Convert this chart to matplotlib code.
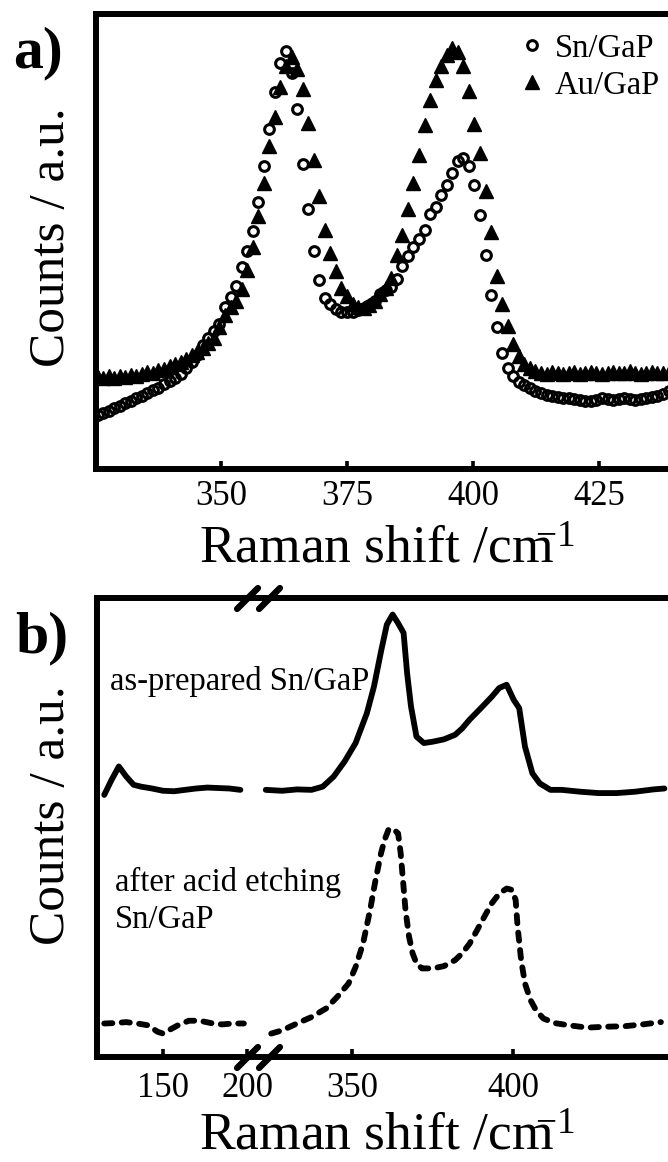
import matplotlib
matplotlib.use("Agg")
import matplotlib.pyplot as plt
from matplotlib.lines import Line2D
from matplotlib.markers import MarkerStyle

plt.rcParams['font.family'] = ['Liberation Serif', 'DejaVu Serif']
plt.rcParams['mathtext.fontset'] = 'custom'
plt.rcParams['mathtext.rm'] = 'Liberation Serif'
plt.rcParams['mathtext.default'] = 'rm'

# (a) Raman spectra of Sn/GaP and Au/GaP, same wavenumber grid
shift_a = [325.5, 326.6, 327.7, 328.8, 329.9, 331.0, 332.1, 333.2, 334.3, 335.4,
           336.5, 337.6, 338.7, 339.8, 340.9, 342.0, 343.1, 344.2, 345.3, 346.4,
           347.5, 348.6, 349.7, 350.8, 351.9, 353.0, 354.1, 355.2, 356.3, 357.4,
           358.5, 359.6, 360.7, 361.8, 362.9, 364.0, 365.1, 366.2, 367.3, 368.4,
           369.5, 370.6, 371.7, 372.8, 373.9, 375.0, 376.1, 377.2, 378.3, 379.4,
           380.5, 381.6, 382.7, 383.8, 384.9, 386.0, 387.1, 388.2, 389.3, 390.4,
           391.5, 392.6, 393.7, 394.8, 395.9, 397.0, 398.1, 399.2, 400.3, 401.4,
           402.5, 403.6, 404.7, 405.8, 406.9, 408.0, 409.1, 410.2, 411.3, 412.4,
           413.5, 414.6, 415.7, 416.8, 417.9, 419.0, 420.1, 421.2, 422.3, 423.4,
           424.5, 425.6, 426.7, 427.8, 428.9, 430.0, 431.1, 432.2, 433.3, 434.4,
           435.5, 436.6, 437.7, 438.8]

sn_counts = [11.8, 12.3, 12.8, 13.3, 13.9, 14.4, 14.9, 15.5, 16.1, 16.8,
             17.3, 17.9, 18.6, 19.3, 20.0, 20.9, 22.1, 23.5, 25.1, 27.2,
             28.9, 30.4, 31.9, 35.5, 37.9, 40.2, 44.3, 48.0, 52.2, 58.6,
             66.5, 74.8, 82.8, 89.3, 91.9, 87.0, 79.2, 67.0, 57.2, 48.0,
             41.5, 37.6, 36.2, 35.2, 34.6, 34.4, 34.6, 34.9, 35.4, 36.1,
             37.0, 38.4, 39.3, 40.1, 41.8, 44.6, 46.8, 48.8, 50.6, 52.6,
             56.0, 57.5, 60.3, 62.4, 65.0, 67.7, 68.4, 66.5, 62.5, 55.8,
             47.0, 38.2, 31.3, 25.5, 22.3, 20.4, 19.2, 18.4, 17.7, 17.1,
             16.7, 16.3, 16.1, 15.9, 15.7, 15.5, 15.3, 15.1, 15.0, 14.9,
             15.2, 15.5, 15.3, 15.1, 15.4, 15.6, 15.3, 15.1, 15.3, 15.5,
             15.8, 16.0, 16.5, 17.1]

au_counts = [20.3, 20.0, 20.4, 20.1, 20.5, 20.3, 20.7, 20.5, 20.9, 21.3,
             21.1, 21.7, 22.0, 22.6, 23.1, 23.5, 24.1, 25.1, 25.8, 26.6,
             27.8, 28.9, 31.2, 33.8, 35.7, 37.0, 39.5, 43.8, 48.8, 55.5,
             62.8, 71.0, 77.4, 84.0, 88.5, 90.6, 88.0, 83.5, 76.0, 68.0,
             60.0, 52.5, 47.5, 43.5, 39.8, 38.0, 36.3, 35.5, 35.4, 36.0,
             37.0, 38.5, 39.8, 42.0, 47.0, 51.5, 57.2, 62.8, 69.0, 75.5,
             81.1, 85.5, 88.6, 91.0, 92.5, 91.6, 88.6, 83.0, 75.8, 69.4,
             61.0, 52.0, 42.5, 36.3, 31.5, 27.4, 24.9, 23.1, 22.1, 21.5,
             21.1, 20.9, 21.3, 21.0, 20.8, 21.2, 21.4, 20.9, 21.1, 21.3,
             21.0, 20.8, 21.1, 21.4, 21.0, 21.2, 21.5, 21.1, 20.9, 21.2,
             21.4, 21.1, 21.0, 21.3]

# (b) Sn/GaP before and after acid etching, low and high wavenumber windows
prep_low_shift = [115.0, 119.4, 123.7, 128.1, 132.5, 136.9, 143.4, 150.0, 156.6, 163.1,
                  169.7, 176.3, 182.8, 189.4, 196.0]
prep_low = [57.1, 60.4, 63.3, 61.1, 59.3, 58.9, 58.5, 58.0, 57.9, 58.2,
            58.5, 58.7, 58.6, 58.5, 58.2]
prep_high_shift = [323.2, 328.3, 332.9, 337.4, 340.9, 344.3, 347.7, 351.1, 354.6, 356.8,
                   359.1, 360.8, 362.6, 364.3, 366.0, 367.1, 368.3, 370.0, 372.3, 375.1,
                   378.5, 382.0, 384.2, 386.5, 390.0, 393.4, 395.7, 398.0, 400.2, 401.9,
                   403.7, 406.0, 408.3, 411.6, 415.1, 420.8, 426.5, 432.2, 437.9, 443.6,
                   447.0]
prep_high = [58.2, 58.0, 58.3, 58.2, 58.9, 61.1, 64.4, 68.4, 74.9, 80.7,
             88.7, 94.2, 96.4, 94.5, 92.4, 83.6, 76.4, 69.8, 68.4, 68.7,
             69.2, 70.2, 71.6, 73.5, 76.0, 78.5, 80.4, 81.1, 77.8, 76.0,
             67.6, 61.8, 59.6, 58.2, 58.2, 57.8, 57.5, 57.5, 57.8, 58.3,
             58.5]

etch_low_shift = [115.0, 121.6, 128.1, 134.7, 141.2, 146.7, 150.0, 153.3, 158.8, 165.3,
                  171.9, 178.4, 185.0, 191.6, 198.1]
etch_low = [7.3, 7.4, 7.6, 7.3, 6.9, 5.5, 5.1, 5.8, 6.9, 7.9,
            7.9, 7.4, 7.1, 7.3, 7.3]
etch_high_shift = [324.9, 328.3, 332.9, 337.4, 342.0, 345.4, 348.9, 351.1, 353.4, 355.6,
                   357.3, 359.0, 360.1, 361.3, 362.6, 364.3, 365.1, 365.8, 366.6, 367.7,
                   368.8, 370.0, 371.7, 375.1, 378.5, 382.0, 384.2, 386.5, 388.8, 391.1,
                   393.4, 395.7, 398.0, 399.7, 400.8, 401.4, 402.5, 403.7, 405.4, 407.1,
                   409.4, 412.8, 417.4, 423.1, 428.8, 434.5, 440.2, 445.9]
etch_high = [5.1, 5.8, 7.3, 8.7, 10.6, 13.1, 16.0, 19.6, 24.7, 32.0,
             38.6, 44.4, 47.3, 49.5, 49.8, 48.7, 44.4, 38.6, 32.0, 26.2,
             22.6, 20.4, 19.3, 19.3, 19.8, 21.1, 22.6, 24.7, 27.6, 30.6,
             33.5, 35.6, 36.7, 36.4, 34.2, 28.4, 21.1, 16.0, 12.4, 10.2,
             8.4, 7.4, 6.9, 6.4, 6.6, 6.7, 7.1, 7.6]

ticks_a = [350, 375, 400, 425]
ticks_b_low = [150, 200]
ticks_b_high = [350, 400]

W, H = 668, 1162
fig = plt.figure(figsize=(W / 100, H / 100), dpi=100)


def box(left, top, right, bottom):
    # pixel box -> figure fraction rectangle
    return [left / W, 1 - bottom / H, (right - left) / W, (bottom - top) / H]


def at(x, y):
    return x / W, 1 - y / H


def frame(ax, ticks, pad):
    for s in ax.spines.values():
        s.set_linewidth(4.3)
    ax.spines['right'].set_visible(False)
    ax.set_yticks([])
    ax.set_xticks(ticks)
    ax.tick_params(axis='x', direction='in', length=6, width=2.6,
                   labelsize=25, pad=pad)
    ax.set_ylim(0, 100)


# ---- panel a ----
ax_a = fig.add_axes(box(96, 14, 668, 469))
frame(ax_a, ticks_a, 8)
ax_a.set_xlim(325.2, 438.7)
tri = dict(ls='none', marker='^', ms=9.5, color='k')
ring = dict(ls='none', marker='o', ms=7, mfc='none', mec='k', mew=2.2)
ax_a.plot(shift_a, au_counts, **tri)
ax_a.plot(shift_a, sn_counts, **ring)
handles = [Line2D([], [], **ring), Line2D([], [], **tri)]
ax_a.legend(handles, ['Sn/GaP', 'Au/GaP'], loc='upper left',
            bbox_to_anchor=(0.751, 0.958), frameon=False, fontsize=23.5,
            handlelength=0.4, handletextpad=0.5, borderpad=0,
            borderaxespad=0, labelspacing=0.2)

# ---- panel b: broken x axis ----
ax_bl = fig.add_axes(box(97, 598, 258, 1057))
ax_br = fig.add_axes(box(258, 598, 668, 1057))
frame(ax_bl, ticks_b_low, 11)
frame(ax_br, ticks_b_high, 11)
ax_br.spines['left'].set_visible(False)
ax_br.patch.set_visible(False)
ax_bl.set_xlim(110.7, 206.5)
ax_br.set_xlim(320.8, 448.1)

solid = dict(color='k', lw=4.2, solid_joinstyle='round', solid_capstyle='round')
dashed = dict(color='k', lw=4.2, dashes=(1.4, 1.6), dash_capstyle='round',
              dash_joinstyle='round')
ax_bl.plot(prep_low_shift, prep_low, **solid)
ax_br.plot(prep_high_shift, prep_high, **solid)
ax_bl.plot(etch_low_shift, etch_low, **dashed)
ax_br.plot(etch_high_shift, etch_high, **dashed)

# break marks on top and bottom spines
slash = MarkerStyle([(-1, -1), (1, 1)], capstyle='round')
off = 11 / (668 - 258)
for yy in (0, 1):
    ax_br.plot([-off, off], [yy, yy], transform=ax_br.transAxes, ls='none',
               marker=slash, ms=15, mew=4.6, mec='k', clip_on=False, zorder=5)

# ---- text ----
fig.text(*at(13, 67), 'a)', fontsize=43, fontweight='bold', va='baseline')
fig.text(*at(15, 652), 'b)', fontsize=43, fontweight='bold', va='baseline')
for yc in (237, 815):
    fig.text(*at(52, yc), 'Counts / a.u.', fontsize=37, rotation=90,
             ha='center', va='center')
for yb in (563, 1150):
    fig.text(*at(387, yb), r'Raman shift /cm$\!\!{}^{-1}$', fontsize=38.5,
             ha='center', va='baseline')
fig.text(*at(110, 690), 'as-prepared Sn/GaP', fontsize=23.5, va='baseline')
fig.text(*at(115, 891), 'after acid etching', fontsize=23.5, va='baseline')
fig.text(*at(115, 928), 'Sn/GaP', fontsize=23.5, va='baseline')

fig.savefig('out.png', dpi=100)
